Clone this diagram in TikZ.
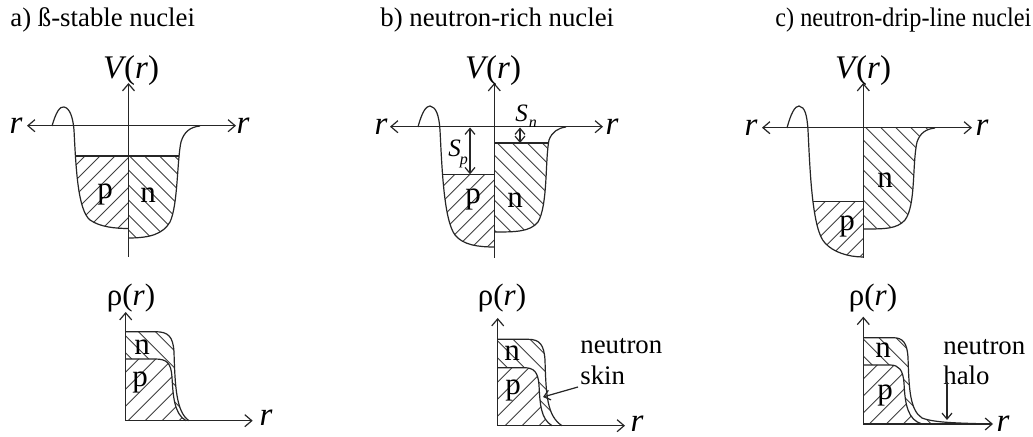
\documentclass[tikz,border=0pt]{standalone}
\usepackage{fontspec}
\setmainfont{Liberation Serif}
\usetikzlibrary{arrows.meta}
\newcommand\hatchne[5]{%
  \pgfmathsetmacro\myhH{#4-#2}%
  \pgfmathsetmacro\myhS{#1-\myhH}%
  \pgfmathsetmacro\myhT{\myhS+#5}%
  \foreach \s in {\myhS,\myhT,...,#3} \draw[hatchline] (\s,#4) -- ++(\myhH,-\myhH);%
}
\newcommand\hatchnw[5]{%
  \pgfmathsetmacro\myhH{#4-#2}%
  \pgfmathsetmacro\myhS{#1-\myhH}%
  \pgfmathsetmacro\myhT{\myhS+#5}%
  \foreach \s in {\myhS,\myhT,...,#3} \draw[hatchline] (\s,#2) -- ++(\myhH,\myhH);%
}
\begin{document}
\begin{tikzpicture}[x=0.5pt,y=-0.5pt,
  curve/.style={draw=black!85,line width=0.6pt},
  hatchline/.style={draw=black!75,line width=0.45pt},
  axis/.style={draw=black!85,line width=0.6pt,-{Straight Barb[length=3.5pt,width=6pt]}},
  axistwo/.style={draw=black!85,line width=0.6pt,{Straight Barb[length=3.5pt,width=6pt]}-{Straight Barb[length=3.5pt,width=6pt]}},
  dbl/.style={draw=black!85,line width=0.6pt,{Straight Barb[length=3pt,width=5pt]}-{Straight Barb[length=3pt,width=5pt]}},
  ptr/.style={draw=black!85,line width=0.6pt,-{Straight Barb[length=3pt,width=5pt]}},
  title/.style={font=\fontsize{13.4}{16}\selectfont, anchor=base west, inner sep=0},
  lbl/.style={font=\fontsize{15.5}{17}\selectfont, inner sep=0},
  ax/.style={font=\fontsize{16.5}{18}\selectfont\itshape, inner sep=0},
  note/.style={font=\fontsize{13.4}{16}\selectfont, anchor=base west, inner sep=0},
]
\useasboundingbox (0,0) rectangle (1033,437);
\fill[white] (0,0) rectangle (1033,437);

% titles
\node[title] (ta) at (10,26.5) {a) ß-stable nuclei};
\node[title] (tb) at (380,26.5) {b) neutron-rich nuclei};
\node[title] (tc) at (775,26.5) {\scalebox{0.905}[1]{c) neutron-drip-line nuclei}};

% ================= panel a, potential
\def\pathAL{(52,126) .. controls (56,112) and (60,106) .. (64,107) .. controls (70,108) and (73,118) .. (74,130) .. controls (76,170) and (78,210) .. (90,220) .. controls (100,227) and (115,228.5) .. (128.5,228.5)}
\def\pathAR{(200,126) .. controls (190,127) and (184,132) .. (181,142) .. controls (177,160) and (178,205) .. (170,222) .. controls (163,234) and (150,238) .. (128.5,238)}
\begin{scope}
  \clip \pathAL -- (128.5,126) -- cycle;
  \hatchne{40}{156}{128.5}{260}{15}
  \draw[curve] (40,156) -- (128.5,156);
\end{scope}
\begin{scope}
  \clip \pathAR -- (128.5,126) -- cycle;
  \hatchnw{128.5}{156}{210}{260}{15}
  \draw[curve] (128.5,156) -- (210,156);
\end{scope}
\draw[curve] \pathAL;
\draw[curve] \pathAR;
\draw[axis] (128.5,257) -- (128.5,83);
\draw[axistwo] (27,125.7) -- (236,125.7);
\node[ax] (Va) at (131,71) {V\kern0.5pt{\upshape(}r{\upshape)}};
\node[ax] (rla) at (16,126) {r};
\node[ax] (rra) at (243,126) {r};
\node[lbl] (pa) at (105,195) {p};
\node[lbl] (na) at (148,195) {n};

% ================= panel a, density
\def\nA{(125.7,331.7) -- (155,331.7) .. controls (168,331.7) and (173,336) .. (174,352) .. controls (175,385) and (176,412) .. (189,420.7)}
\def\pA{(125.7,359) -- (155,359) .. controls (167,359) and (171,363) .. (172,377) .. controls (173,395) and (174,414) .. (186,420.7)}
\begin{scope}
  \clip \pA -- (125.7,420.7) -- cycle;
  \hatchne{125.7}{355}{200}{421}{17}
\end{scope}
\begin{scope}[even odd rule]
  \clip \nA -- (125.7,420.7) -- cycle \pA -- (125.7,420.7) -- cycle;
  \hatchnw{125.7}{330}{200}{421}{17}
\end{scope}
\draw[curve] \nA;
\draw[curve] \pA;
\draw[axis] (125.7,420.7) -- (125.7,312);
\draw[axis] (125.7,420.7) -- (252.7,420.7);
\node[lbl] (rhoa) at (131,298) {ρ(\textit{r})};
\node[ax] (rda) at (266,418) {r};
\node[lbl] (dna) at (142,347) {n};
\node[lbl] (dpa) at (140,382) {p};

% ================= panel b, potential
\def\pathBL{(418,127) .. controls (422,112) and (426,106) .. (430,106) .. controls (436,107) and (439,115) .. (440,130) .. controls (442,170) and (444,220) .. (455,235) .. controls (463,245) and (478,247) .. (494.3,247)}
\def\pathBR{(566,127) .. controls (558,128) and (552,132) .. (549,140) .. controls (545,160) and (548,205) .. (538,222) .. controls (530,232) and (515,232) .. (494.3,232)}
\begin{scope}
  \clip \pathBL -- (494.3,127) -- cycle;
  \hatchne{410}{174.3}{494.3}{260}{15}
  \draw[curve] (410,174.3) -- (494.3,174.3);
\end{scope}
\begin{scope}
  \clip \pathBR -- (494.3,127) -- cycle;
  \hatchnw{494.3}{143}{575}{260}{15}
  \draw[curve] (494.3,143) -- (575,143);
\end{scope}
\draw[curve] \pathBL;
\draw[curve] \pathBR;
\draw[axis] (494.3,258) -- (494.3,83);
\draw[axistwo] (390,126.7) -- (603,126.7);
\node[ax] (Vb) at (493,71) {V\kern0.5pt{\upshape(}r{\upshape)}};
\node[ax] (rlb) at (381,127) {r};
\node[ax] (rrb) at (612,127) {r};
\node[lbl] (pb) at (473,200) {p};
\node[lbl] (nb) at (515,200) {n};
\coordinate (spT) at (470,127.5);
\coordinate (spB) at (470,174.3);
\draw[dbl] (spT) -- (spB);
\coordinate (snT) at (520,127.5);
\coordinate (snB) at (520,143);
\draw[dbl] (snT) -- (snB);
\node[inner sep=0, font=\fontsize{12.5}{14}\selectfont] (Sp) at (458,154) {\textit{S}\kern-0.5pt\raisebox{-4pt}{\fontsize{8}{8}\selectfont\textit{p}}};
\node[inner sep=0, font=\fontsize{12.5}{14}\selectfont] (Sn) at (526,116) {\textit{S}\kern0.5pt\raisebox{-3pt}{\fontsize{8}{8}\selectfont\textit{n}}};

% ================= panel b, density
\def\nB{(497.7,339.3) -- (528,339.3) .. controls (540,339.3) and (544,345) .. (545,360) .. controls (546,395) and (547,416) .. (562,425.7)}
\def\pB{(497.7,367.7) -- (524,367.7) .. controls (534,367.7) and (538,372) .. (539,385) .. controls (540,405) and (541,419) .. (552,425.7)}
\begin{scope}
  \clip \pB -- (497.7,425.7) -- cycle;
  \hatchne{497.7}{365}{570}{426}{17}
\end{scope}
\begin{scope}[even odd rule]
  \clip \nB -- (497.7,425.7) -- cycle \pB -- (497.7,425.7) -- cycle;
  \hatchnw{497.7}{337}{570}{426}{17}
\end{scope}
\draw[curve] \nB;
\draw[curve] \pB;
\draw[axis] (497.7,425.7) -- (497.7,318);
\draw[axis] (497.7,425.7) -- (625,425.7);
\node[lbl] (rhob) at (502,298) {ρ(\textit{r})};
\node[ax] (rdb) at (637,424) {r};
\node[lbl] (dnb) at (512,353) {n};
\node[lbl] (dpb) at (513,390) {p};
\node[note] (neub) at (580,353.3) {neutron};
\node[note] (skin) at (580,385) {skin};
\coordinate (skintip) at (543,397);
\draw[ptr] ([xshift=-1pt,yshift=-1pt]skin.base west) -- (skintip);

% ================= panel c, potential
\def\pathCL{(787,128) .. controls (791,113) and (795,106) .. (799,106) .. controls (805,107) and (807,115) .. (808,130) .. controls (810,170) and (812,230) .. (825,243) .. controls (833,252) and (848,257) .. (863.3,257)}
\def\pathCR{(935,128) .. controls (926,129) and (920,133) .. (917,142) .. controls (912,165) and (916,205) .. (905,220) .. controls (897,229) and (885,229) .. (863.3,229)}
\begin{scope}
  \clip \pathCL -- (863.3,128) -- cycle;
  \hatchne{780}{201.7}{863.3}{260}{15}
  \draw[curve] (780,201.7) -- (863.3,201.7);
\end{scope}
\begin{scope}
  \clip \pathCR -- (863.3,127.7) -- cycle;
  \hatchnw{863.3}{127.7}{945}{260}{15}
\end{scope}
\draw[curve] \pathCL;
\draw[curve] \pathCR;
\draw[axis] (863.3,258) -- (863.3,83);
\draw[axistwo] (762,127.7) -- (972,127.7);
\node[ax] (Vc) at (863,71) {V\kern0.5pt{\upshape(}r{\upshape)}};
\node[ax] (rlc) at (751,128) {r};
\node[ax] (rrc) at (982,128) {r};
\node[lbl] (nc) at (885,180) {n};
\node[lbl] (pc) at (847,227) {p};

% ================= panel c, density
\def\nC{(863.3,337.7) -- (893,337.7) .. controls (903,337.7) and (907,343) .. (908,357) .. controls (909,390) and (910,410) .. (922,418) .. controls (935,423) and (960,423) .. (988,424)}
\def\pC{(863.3,365) -- (890,365) .. controls (899,365) and (903,370) .. (904,383) .. controls (905,405) and (908,420) .. (922,424)}
\begin{scope}
  \clip \pC -- (863.3,424) -- cycle;
  \hatchne{863.3}{362}{930}{424}{17}
\end{scope}
\begin{scope}[even odd rule]
  \clip \nC -- (863.3,424) -- cycle \pC -- (863.3,424) -- cycle;
  \hatchnw{863.3}{335}{990}{424}{17}
\end{scope}
\draw[curve] \nC;
\draw[curve] \pC;
\draw[axis] (863.3,424) -- (863.3,316.7);
\draw[axis] (863.3,424) -- (993,424);
\node[lbl] (rhoc) at (873,298) {ρ(\textit{r})};
\node[ax] (rdc) at (1003,424) {r};
\node[lbl] (dnc) at (883,350) {n};
\node[lbl] (dpc) at (885,395) {p};
\node[note] (neuc) at (943,355) {neutron};
\node[note] (halo) at (943,385) {halo};
\coordinate (halotip) at (947,420);
\draw[ptr] (halotip |- halo.south) ++(0,-4) -- (halotip);
\end{tikzpicture}
\end{document}
